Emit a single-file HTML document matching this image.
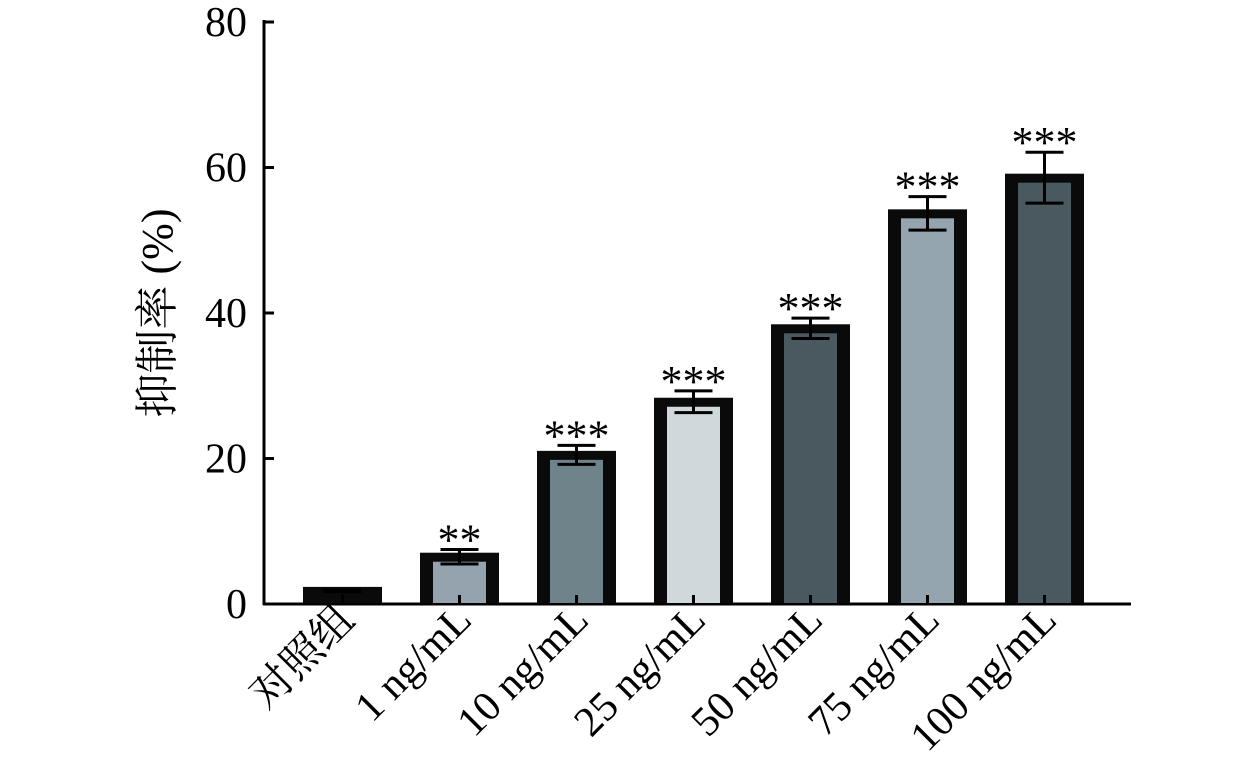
<!DOCTYPE html>
<html><head><meta charset="utf-8"><style>
html,body{margin:0;padding:0;background:#fff;}
svg{display:block;}
text{font-family:"Liberation Serif","Noto Serif CJK SC",serif;}
</style></head><body>
<svg id="chart" width="1260" height="776" viewBox="0 0 1260 776" xmlns="http://www.w3.org/2000/svg" font-family="'Liberation Serif','Noto Serif CJK SC',serif">
<text transform="translate(172,313) rotate(-90)" text-anchor="middle" font-size="44" font-family="'Liberation Serif','Noto Serif CJK SC',serif">抑制率 (%)</text>
</svg>
<script>
const categories = ["对照组","1 ng/mL","10 ng/mL","25 ng/mL","50 ng/mL","75 ng/mL","100 ng/mL"];
const means = [1.8, 6.5, 20.5, 27.8, 37.9, 53.7, 58.6];
const errors = [0.1, 1.0, 1.3, 1.5, 1.4, 2.3, 3.5];
const stars = ["", "**", "***", "***", "***", "***", "***"];
const fills = ["#111111","#94a3ae","#6f838b","#cfd9db","#4a5860","#94a5b0","#4a5860"];
const yTicks = [0, 20, 40, 60, 80];

const svg = document.getElementById('chart');
const NS = 'http://www.w3.org/2000/svg';
const FF = "'Liberation Serif','Noto Serif CJK SC',serif";
const y = v => 604 - 7.275 * v;
const x = i => 342.5 + i * 117;
const BW = 79, BORDER = 13;
function mk(tag, attrs, parent) {
  const e = document.createElementNS(NS, tag);
  for (const k in attrs) e.setAttribute(k, attrs[k]);
  if (tag === 'text') e.setAttribute('font-family', FF);
  (parent || svg).appendChild(e);
  return e;
}
let ax = mk('line', {x1:264, y1:20, x2:264, y2:605, stroke:'#000', 'stroke-width':3});


let xa = mk('line', {x1:263, y1:604, x2:1131, y2:604, stroke:'#000', 'stroke-width':3});


yTicks.forEach(t => {
  const tk = mk('line', {x1:264, y1:y(t), x2:274, y2:y(t), stroke:'#000', 'stroke-width':3});
  
  
  const lb = mk('text', {x:247, y:y(t)+14, 'text-anchor':'end', 'font-size':42});
  lb.textContent = t;
  
  
});
categories.forEach((c, i) => {
  const cx = x(i);
  const top = y(means[i]) - 4;
  const bottom = 603;
  const g = mk('g', {});
  
  
  const outer = mk('rect', {x:cx-BW/2, y:top, width:BW, height:bottom-top, fill:'#0a0a0a'}, g);
  
  
  const ih = bottom - (top + 9);
  if (ih > 0 && i > 0) {
    const inner = mk('rect', {x:cx-BW/2+BORDER, y:top+9, width:BW-2*BORDER, height:ih, fill:fills[i]}, g);
    
    
  }
  const hi = y(means[i] + errors[i]), lo = y(means[i] - errors[i]);
  const ep = mk('path', {d:`M${cx} ${hi}V${lo}M${cx-19} ${hi}H${cx+19}M${cx-19} ${lo}H${cx+19}M${cx} 595V603`, stroke:'#000', 'stroke-width':3, fill:'none'}, g);
  
  
  if (stars[i]) {
    const st = mk('text', {x:cx, y:hi+5, 'text-anchor':'middle', 'font-size':44}, g);
    st.textContent = stars[i];
    
    
  }
  const lb = mk('text', {transform:`translate(${cx+14},622) rotate(-45)`, 'text-anchor':'end', 'font-size':42});
  lb.textContent = c;
  
  
});
</script>
</body></html>
